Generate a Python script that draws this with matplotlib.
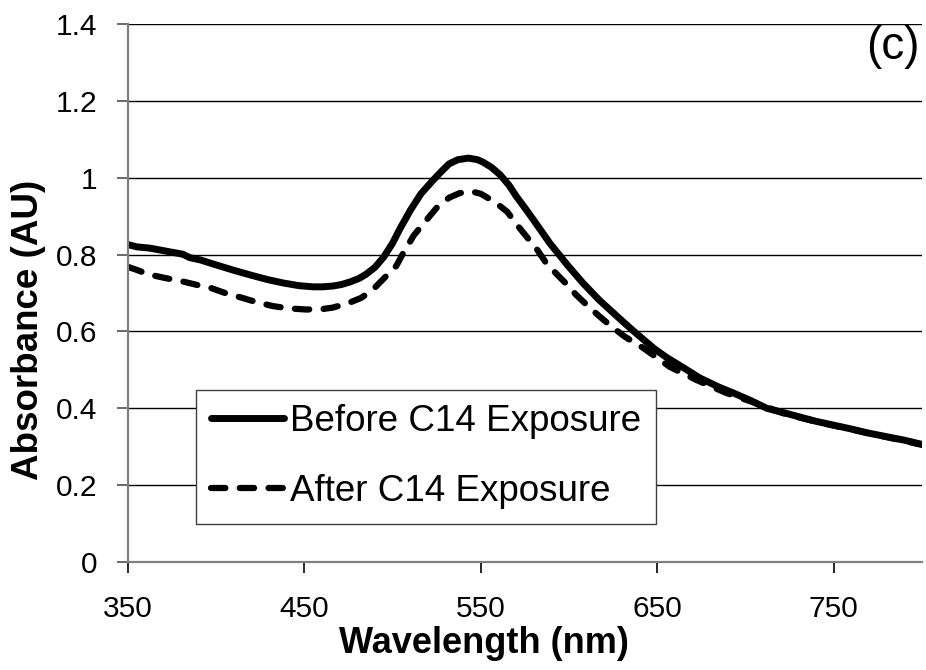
import matplotlib.pyplot as plt

plt.rcParams['font.family'] = ['Liberation Sans', 'DejaVu Sans']

# absorbance spectra before / after exposure
wl_before = [350, 355, 362, 368, 375, 381, 385, 391, 400, 410, 420, 429, 438,
             447, 455, 460, 466, 471, 476, 481, 485, 490, 495, 500, 504, 510,
             516, 523, 528, 532, 537, 543, 548, 551, 556, 561, 566, 570, 575,
             580, 589, 599, 608, 617, 627, 636, 648, 655, 665, 674, 685, 693,
             703, 712, 722, 731, 740, 750, 760, 769, 780, 790, 800]
abs_before = [0.826, 0.820, 0.817, 0.812, 0.806, 0.801, 0.792, 0.786, 0.773,
              0.759, 0.746, 0.735, 0.726, 0.719, 0.716, 0.716, 0.718, 0.722,
              0.729, 0.738, 0.749, 0.767, 0.794, 0.830, 0.866, 0.915, 0.958,
              0.994, 1.018, 1.036, 1.047, 1.051, 1.047, 1.041, 1.027, 1.007,
              0.980, 0.952, 0.921, 0.889, 0.830, 0.773, 0.725, 0.682, 0.640,
              0.603, 0.556, 0.533, 0.505, 0.479, 0.455, 0.440, 0.420, 0.400,
              0.388, 0.377, 0.366, 0.356, 0.346, 0.336, 0.326, 0.317, 0.306]

wl_after = [350, 355, 362, 370, 381, 390, 397, 405, 415, 423, 432, 441, 451,
            460, 466, 474, 482, 488, 494, 498, 502, 506, 512, 519, 525, 532,
            538, 545, 550, 553, 559, 565, 570, 576, 582, 587, 593, 599, 604,
            610, 617, 625, 632, 642, 657, 672, 689, 706, 722, 740, 760, 780,
            800]
abs_after = [0.768, 0.760, 0.748, 0.740, 0.730, 0.720, 0.713, 0.700, 0.687,
             0.676, 0.666, 0.660, 0.657, 0.658, 0.662, 0.672, 0.687, 0.705,
             0.733, 0.752, 0.770, 0.804, 0.850, 0.889, 0.922, 0.948, 0.960,
             0.964, 0.958, 0.950, 0.933, 0.911, 0.880, 0.846, 0.812, 0.778,
             0.749, 0.721, 0.695, 0.669, 0.640, 0.609, 0.585, 0.557, 0.508,
             0.474, 0.440, 0.413, 0.386, 0.365, 0.345, 0.325, 0.305]

x_ticks = [350, 450, 550, 650, 750]
y_ticks = [0, 0.2, 0.4, 0.6, 0.8, 1, 1.2, 1.4]
y_tick_labels = ['0', '0.2', '0.4', '0.6', '0.8', '1', '1.2', '1.4']

fig = plt.figure(figsize=(9.26, 6.70), dpi=100)
ax = fig.add_axes([0.1382, 0.1612, 0.8575, 0.803])

ax.plot(wl_before, abs_before, color='black', lw=5.0,
        solid_capstyle='round', solid_joinstyle='round',
        label='Before C14 Exposure', zorder=3)
ax.plot(wl_after, abs_after, color='black', lw=4.5, linestyle=(0, (2.3, 2.3)),
        dash_capstyle='round', label='After C14 Exposure', zorder=3)

ax.set_xlim(350, 800)
ax.set_ylim(0, 1.4)
ax.set_xticks(x_ticks)
ax.set_yticks(y_ticks)
ax.set_yticklabels(y_tick_labels)

ax.yaxis.grid(True, color='black', lw=1.0)
ax.set_axisbelow(True)
for s in ['top', 'right']:
    ax.spines[s].set_visible(False)
for s in ['left', 'bottom']:
    ax.spines[s].set_color('#808080')
    ax.spines[s].set_linewidth(1.6)
    ax.spines[s].set_zorder(4)

ax.tick_params(axis='y', direction='out', length=8, width=1.2, color='#505050',
               labelsize=21.5, pad=14)
ax.tick_params(axis='x', direction='out', length=8, width=1.2, color='black',
               labelsize=21.5, pad=16)

ax.set_xlabel('Wavelength (nm)', fontsize=26, fontweight='bold')
ax.set_ylabel('Absorbance (AU)', fontsize=26.5, fontweight='bold')
ax.xaxis.set_label_coords(0.4477, -0.119)
ax.yaxis.set_label_coords(-0.103, 0.431)

ax.text(0.9975, 0.935, '(c)', transform=ax.transAxes, ha='right',
        va='baseline', fontsize=33)

leg = ax.legend(loc='lower left', bbox_to_anchor=(0.0856, 0.0706),
                fontsize=26.5, frameon=True, fancybox=False, framealpha=1,
                handlelength=2.0, handletextpad=0.15,
                borderpad=0.4, labelspacing=0.95, borderaxespad=0)
leg.get_frame().set_linewidth(1.0)
leg.get_frame().set_edgecolor('#404040')

plt.savefig('out.png', dpi=100)
